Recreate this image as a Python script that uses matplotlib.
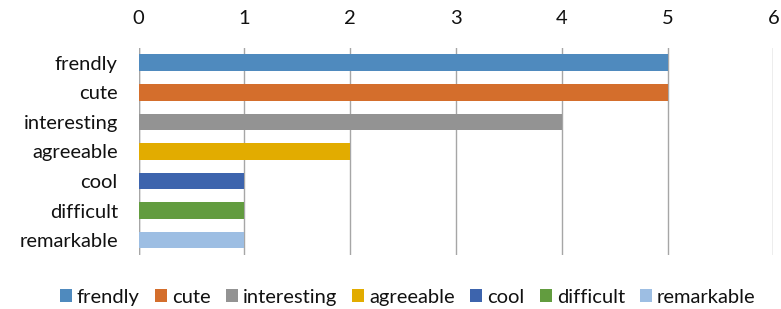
import matplotlib.pyplot as plt
from matplotlib.patches import Patch

plt.rcParams['font.family'] = ['Lato', 'DejaVu Sans']

categories = ['frendly', 'cute', 'interesting', 'agreeable', 'cool', 'difficult', 'remarkable']
values = [5, 5, 4, 2, 1, 1, 1]
colors = ['#4F8ABE', '#D46E2C', '#939393', '#E2AC00', '#3D64AD', '#629C3F', '#9DBEE3']
x_ticks = [0, 1, 2, 3, 4, 5, 6]

fig = plt.figure(figsize=(7.81, 3.09), dpi=100)
ax = fig.add_axes((0.1776, 0.1748, 0.8126, 0.6699))

ypos = range(len(categories))
ax.barh(ypos, values, height=0.56, color=colors, zorder=3)

ax.set_xlim(0, 6)
ax.set_ylim(len(categories) - 0.5, -0.5)
ax.set_xticks(x_ticks)
ax.set_yticks(list(ypos))
ax.set_yticklabels(categories)
ax.xaxis.tick_top()
ax.tick_params(axis='x', length=0, pad=15, labelsize=14.5, colors='#111111')
ax.tick_params(axis='y', length=0, pad=15, labelsize=14.5, colors='#111111')
ax.grid(axis='x', color='#A6A6A6', linewidth=1.0, zorder=0)
ax.grid(axis='y', visible=False)
for s in ax.spines.values():
    s.set_visible(False)
# the 0 line acts as the axis line
ax.axvline(0, color='#A6A6A6', linewidth=1.0, zorder=1)

handles = [Patch(facecolor=c, label=l) for c, l in zip(colors, categories)]
fig.legend(handles=handles, loc='center', bbox_to_anchor=(0.522, 0.038), ncol=7,
           frameon=False, fontsize=14.5, handlelength=0.6, handleheight=0.6,
           handletextpad=0.25, columnspacing=0.75, labelcolor='#111111')

fig.savefig('out.png', dpi=100)
